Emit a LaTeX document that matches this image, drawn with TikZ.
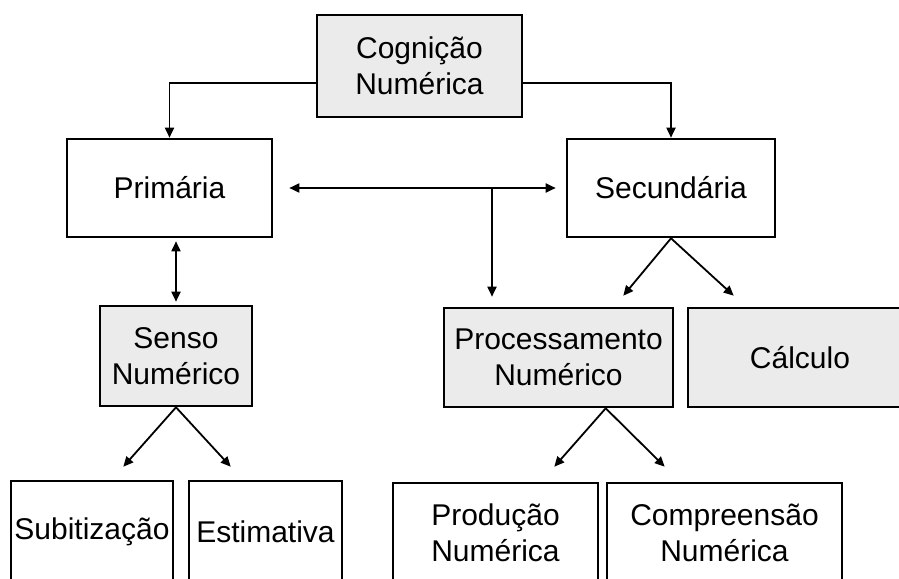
\documentclass[tikz,border=0pt]{standalone}
\usepackage{fontspec}
\setmainfont{Liberation Sans}
\usetikzlibrary{arrows.meta}
\begin{document}
\begin{tikzpicture}[x=0.5pt,y=-0.5pt,
	>={Triangle[length=5pt,width=4.5pt]},
	box/.style={draw, line width=1.3pt, align=center, inner sep=0pt, font=\fontsize{15}{18}\selectfont},
	grey/.style={box, fill=black!8},
	link/.style={line width=0.9pt, ->}]
	\useasboundingbox (0,0) rectangle (899,578);
	\clip (0,0) rectangle (899,578);
	% boxes
	\node[grey, minimum width=102.5pt, minimum height=51pt] (cog) at (419.5,66) {Cognição\\Numérica};
	\node[box, minimum width=102.5pt, minimum height=49pt] (prim) at (169.5,188) {Primária};
	\node[box, minimum width=104pt, minimum height=49pt] (sec) at (671,188) {Secundária};
	\node[grey, minimum width=76pt, minimum height=50pt] (senso) at (176,356) {Senso\\Numérico};
	\node[grey, minimum width=114.5pt, minimum height=49.5pt] (proc) at (558.5,357.5) {Processamento\\Numérico};
	\node[grey, minimum width=112pt, minimum height=49.5pt] (calc) at (800,357.5) {Cálculo};
	\node[box, minimum width=81pt, minimum height=51pt] (subit) at (92,532) {Subitização};
	\node[box, minimum width=76.5pt, minimum height=51pt] (estim) at (265.5,532) {Estimativa};
	\node[box, minimum width=102.5pt, minimum height=50pt] (prod) at (495.5,533) {Produção\\Numérica};
	\node[box, minimum width=117.5pt, minimum height=50pt] (comp) at (724.5,533) {Compreensão\\Numérica};
	% arrows
	\draw[link] ([yshift=-8.5pt]cog.west) -| (prim.north);
	\draw[link] ([yshift=-8.5pt]cog.east) -| (sec.north);
	\draw[link, <->, shorten <=8pt, shorten >=5pt] (prim.east) -- (sec.west);
	\coordinate (jn) at (492,188);
	\draw[link, shorten >=5pt] (jn) -- (jn |- proc.north);
	\draw[link, <->, shorten <=1.5pt, shorten >=1.5pt] (senso.north |- prim.south) -- (senso.north);
	\draw[link] (sec.south) -- ([xshift=-25.5pt,yshift=5.5pt]proc.north east);
	\draw[link] (sec.south) -- ([xshift=23.5pt,yshift=5.5pt]calc.north west);
	\draw[link] (senso.south) -- ([xshift=-25.5pt,yshift=6.5pt]subit.north east);
	\draw[link] (senso.south) -- ([xshift=21.5pt,yshift=6.5pt]estim.north west);
	\draw[link] (proc.south -| comp.north west) -- ([xshift=-22.5pt,yshift=7.5pt]prod.north east);
	\draw[link] (proc.south -| comp.north west) -- ([xshift=29.5pt,yshift=7.5pt]comp.north west);
\end{tikzpicture}
\end{document}
